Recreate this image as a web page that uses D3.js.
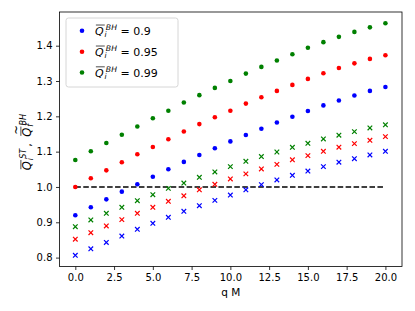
<!DOCTYPE html>
<html>
<head>
<meta charset="utf-8">
<script src="https://cdn.jsdelivr.net/npm/d3@7"></script>
<style>
  body { margin: 0; background: #fff; }
  svg text { font-family: "DejaVu Sans", sans-serif; fill: #000; }
</style>
</head>
<body>
<svg id="chart" width="415" height="311"></svg>
<script>
// values
var qM = [0,1,2,3,4,5,6,7,8,9,10,11,12,13,14,15,16,17,18,19,20];

var blueDots  = [0.920,0.9425,0.965,0.9867,1.0076,1.029,1.050,1.071,1.0906,1.1095,1.129,1.147,1.165,1.1824,1.199,1.215,1.231,1.245,1.259,1.272,1.283];
var redDots   = [1.000,1.0246,1.047,1.070,1.0926,1.1133,1.135,1.157,1.178,1.1975,1.216,1.236,1.254,1.272,1.289,1.306,1.322,1.337,1.350,1.3626,1.373];
var greenDots = [1.0765,1.101,1.1246,1.148,1.171,1.1946,1.216,1.239,1.260,1.2805,1.300,1.321,1.340,1.358,1.3758,1.394,1.410,1.425,1.439,1.452,1.4635];

var blueX  = [0.8065,0.825,0.843,0.861,0.880,0.897,0.914,0.931,0.947,0.962,0.977,0.992,1.0066,1.020,1.033,1.045,1.0576,1.070,1.080,1.0906,1.101];
var redX   = [0.852,0.8706,0.8895,0.9075,0.9254,0.9424,0.9594,0.975,0.992,1.0075,1.0227,1.037,1.051,1.064,1.077,1.0887,1.101,1.1125,1.1227,1.132,1.1425];
var greenX = [0.8876,0.9065,0.9254,0.9425,0.961,0.978,0.996,1.011,1.0274,1.0425,1.0576,1.0727,1.086,1.099,1.1124,1.1237,1.136,1.1465,1.1567,1.167,1.176];

var legendValues = ["0.9", "0.95", "0.99"];
var colors = ["#0000ff", "#ff0000", "#008000"];

var refLineX = [0, 20];
var refLineY = [1.0, 1.0];

var xTicks = [0, 2.5, 5, 7.5, 10, 12.5, 15, 17.5, 20];
var yTicks = [0.8, 0.9, 1.0, 1.1, 1.2, 1.3, 1.4];

var svg = d3.select("#chart");
var margin = {top: 12, right: 13, bottom: 44.5, left: 59.5};
var width = 415 - margin.left - margin.right;
var height = 311 - margin.top - margin.bottom;

var xScale = d3.scaleLinear().domain([-1.02, 21.07]).range([0, width]);
var yScale = d3.scaleLinear().domain([0.7748, 1.4954]).range([height, 0]);

var canvas = svg.append("g").attr("transform", "translate(" + margin.left + "," + margin.top + ")");

// axes
var xAxis = d3.axisBottom(xScale).tickValues(xTicks).tickFormat(d3.format(".1f")).tickSizeOuter(0).tickSize(3.5).tickPadding(3.5);
var yAxis = d3.axisLeft(yScale).tickValues(yTicks).tickFormat(d3.format(".1f")).tickSizeOuter(0).tickSize(3.5).tickPadding(3.5);

var xAxisGroup = canvas.append("g").attr("transform", "translate(0," + height + ")").call(xAxis);
var yAxisGroup = canvas.append("g").call(yAxis);
[xAxisGroup, yAxisGroup].forEach(function(g){
  g.select(".domain").remove();
  g.selectAll("line").attr("stroke", "#000").attr("stroke-width", 0.8);
  g.selectAll("text").style("font-size", "10px").style("font-family", "DejaVu Sans");
});

// frame
canvas.append("rect")
  .attr("x", 0).attr("y", 0).attr("width", width).attr("height", height)
  .attr("fill", "none").attr("stroke", "#000").attr("stroke-width", 0.8);

// reference dashed line
canvas.append("path")
  .datum(refLineX.map(function(d, i){ return [d, refLineY[i]]; }))
  .attr("d", d3.line().x(function(d){ return xScale(d[0]); }).y(function(d){ return yScale(d[1]); }))
  .attr("stroke", "#000").attr("stroke-width", 1.5).attr("fill", "none")
  .attr("stroke-dasharray", "5.55,2.4");

// dots
var dotSeries = [blueDots, redDots, greenDots];
dotSeries.forEach(function(series, k){
  canvas.append("g").selectAll("circle")
    .data(series)
    .enter().append("circle")
    .attr("cx", function(d, i){ return xScale(qM[i]); })
    .attr("cy", function(d){ return yScale(d); })
    .attr("r", 2.3)
    .attr("fill", colors[k]);
});

// crosses
var xSeries = [blueX, redX, greenX];
var h = 2.3;
xSeries.forEach(function(series, k){
  canvas.append("g").selectAll("path")
    .data(series)
    .enter().append("path")
    .attr("d", function(d, i){
      var cx = xScale(qM[i]), cy = yScale(d);
      return "M" + (cx - h) + "," + (cy - h) + "L" + (cx + h) + "," + (cy + h) +
             "M" + (cx - h) + "," + (cy + h) + "L" + (cx + h) + "," + (cy - h);
    })
    .attr("stroke", colors[k]).attr("stroke-width", 1.2).attr("fill", "none");
});

// mathtext-ish Q with overline, sub and sup; returns the x after it
function drawQ(g, x, y, fs, sub, sup, tilde){
  var q = g.append("text").attr("x", x).attr("y", y)
    .style("font-size", fs + "px").style("font-style", "italic").text("Q");
  var w = q.node().getComputedTextLength();
  var oy = y - 0.88 * fs;
  g.append("line")
    .attr("x1", x + 0.08 * fs).attr("x2", x + w + 0.1 * fs)
    .attr("y1", oy).attr("y2", oy)
    .attr("stroke", "#000").attr("stroke-width", 0.7);
  if (tilde) {
    g.append("text").attr("x", x + w / 2 + 0.2 * fs).attr("y", oy - 0.05 * fs)
      .attr("text-anchor", "middle")
      .style("font-size", fs + "px").text("~");
  }
  var sfs = fs * 0.7;
  var xs = x + w + 0.08 * fs;
  var t1 = g.append("text").attr("x", xs).attr("y", y + 0.2 * fs)
    .style("font-size", sfs + "px").style("font-style", "italic").text(sub);
  var t2 = g.append("text").attr("x", xs + 0.12 * fs).attr("y", y - 0.45 * fs)
    .style("font-size", sfs + "px").style("font-style", "italic").text(sup);
  var w1 = t1.node().getComputedTextLength();
  var w2 = t2.node().getComputedTextLength() + 0.12 * fs;
  return xs + Math.max(w1, w2);
}

// legend
var legend = svg.append("g");
legend.append("rect")
  .attr("x", 66).attr("y", 18).attr("width", 112).attr("height", 69)
  .attr("rx", 2.5).attr("ry", 2.5)
  .attr("fill", "#fff").attr("fill-opacity", 0.8)
  .attr("stroke", "#cccccc").attr("stroke-width", 0.8);

var rowY = [30.7, 51.7, 72.5];
legendValues.forEach(function(v, k){
  legend.append("circle").attr("cx", 82).attr("cy", rowY[k]).attr("r", 2.3).attr("fill", colors[k]);
  var xe = drawQ(legend, 95, rowY[k] + 4, 11, "i", "BH", false);
  legend.append("text").attr("x", xe + 3.5).attr("y", rowY[k] + 4)
    .style("font-size", "11px").text("= " + v);
});

// x label
svg.append("text")
  .attr("x", margin.left + width / 2).attr("y", 296)
  .attr("text-anchor", "middle").style("font-size", "10.5px")
  .text("q M");

// y label
var yl = svg.append("g");
var inner = yl.append("g");
var px = drawQ(inner, 0, 0, 11.5, "i", "ST", false);
inner.append("text").attr("x", px + 2).attr("y", 0).style("font-size", "11px").text(",");
px = px + 2 + 10;
drawQ(inner, px, 0, 11.5, "f", "BH", true);
var bb = inner.node().getBBox();
inner.attr("transform", "translate(" + (-bb.x - bb.width / 2) + ",0)");
yl.attr("transform", "translate(31," + 142 + ") rotate(-90)");
</script>
</body>
</html>
